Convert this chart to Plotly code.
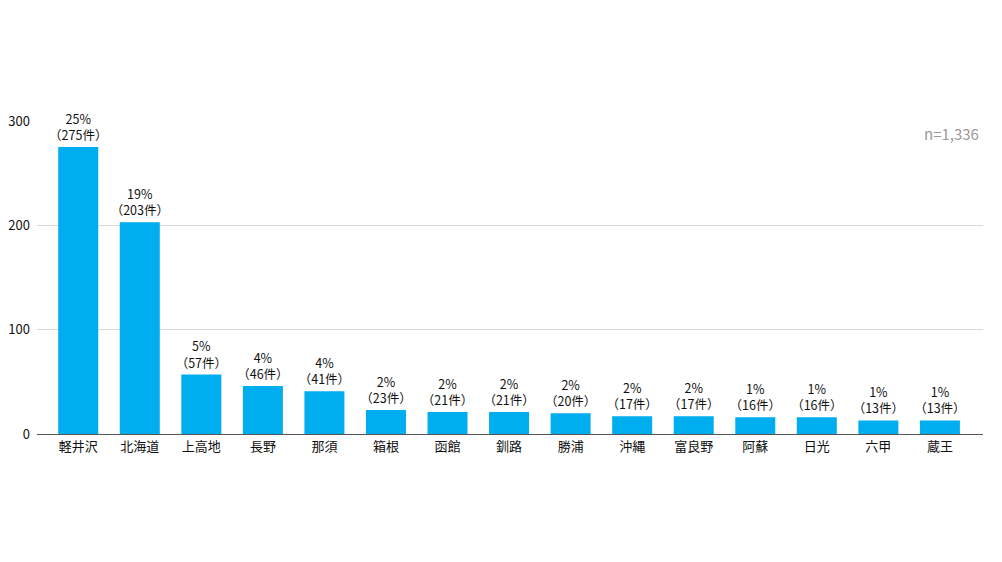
"""Destination bar chart (n=1,336)."""
import plotly.graph_objects as go

PLACES = ['軽井沢', '北海道', '上高地', '長野', '那須', '箱根', '函館', '釧路',
          '勝浦', '沖縄', '富良野', '阿蘇', '日光', '六甲', '蔵王']
COUNTS = [275, 203, 57, 46, 41, 23, 21, 21, 20, 17, 17, 16, 16, 13, 13]
PERCENTS = ['25%', '19%', '5%', '4%', '4%', '2%', '2%', '2%', '2%', '2%',
            '2%', '1%', '1%', '1%', '1%']
Y_TICKS = [0, 100, 200, 300]
N_TOTAL = 'n=1,336'

FONT = 'Noto Sans CJK JP'
BAR_COLOR = '#00ADEF'


def main():
    labels = [f'{p}<br>（{c}件）' for p, c in zip(PERCENTS, COUNTS)]
    fig = go.Figure(go.Bar(
        x=PLACES, y=COUNTS, text=labels, textposition='outside',
        cliponaxis=False, constraintext='none',
        textfont=dict(family=FONT, size=12.5, color='#111111'),
        marker=dict(color=BAR_COLOR, line=dict(width=0)),
        hoverinfo='x+y'))
    # page body has an 8px margin, so margins are shifted to compensate
    fig.update_layout(
        width=1002, height=562,
        margin=dict(l=29, r=27, t=113, b=136),
        paper_bgcolor='white', plot_bgcolor='white',
        font=dict(family=FONT, size=13, color='#111111'),
        bargap=0.35, showlegend=False,
        annotations=[dict(
            text=N_TOTAL, xref='paper', yref='paper', x=1, y=1,
            xanchor='right', yanchor='top', yshift=0, xshift=-2,
            showarrow=False,
            font=dict(family=FONT, size=15, color='#999999'))])
    fig.update_xaxes(
        range=[-0.67, 14.7], showline=True, linecolor='#555555',
        linewidth=1, ticks='', automargin=False,
        tickfont=dict(size=13, color='#111111'))
    fig.update_yaxes(
        range=[0, 300], tickvals=Y_TICKS, showgrid=True,
        gridcolor='#d9d9d9', gridwidth=1, zeroline=False,
        ticks='', ticklabelstandoff=6, automargin=False,
        tickfont=dict(size=13, color='#111111'))
    fig.write_html('out.html')


if __name__ == '__main__':
    main()
